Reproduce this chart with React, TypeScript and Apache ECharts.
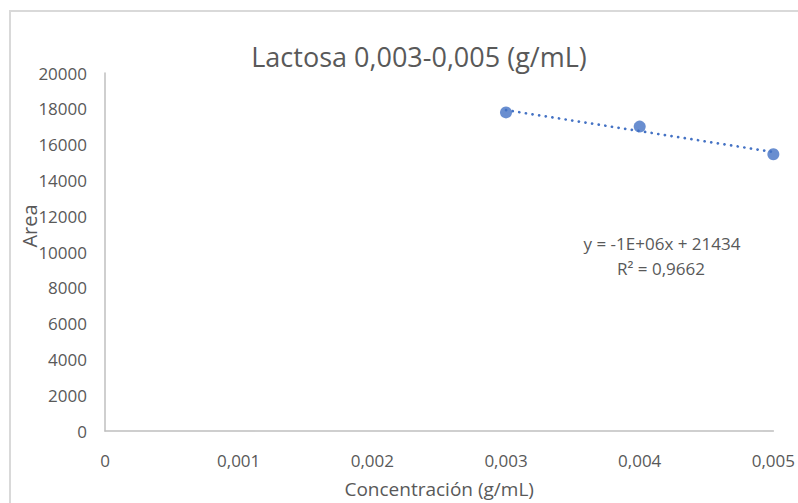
import React, { useEffect, useRef } from "react";
import * as echarts from "echarts";

const concentrations = [0.003, 0.004, 0.005];
const areas = [17798, 17007, 15458];
const yTicks = [0, 2000, 4000, 6000, 8000, 10000, 12000, 14000, 16000, 18000, 20000];
const xTicks = [0, 0.001, 0.002, 0.003, 0.004, 0.005];

const TITLE = "Lactosa 0,003-0,005 (g/mL)";
const X_NAME = "Concentración (g/mL)";
const Y_NAME = "Area";
const EQUATION = "y = -1E+06x + 21434";
const R2 = "R² = 0,9662";

function regression(xs: number[], ys: number[]) {
  const n = xs.length;
  const mx = xs.reduce((a, b) => a + b, 0) / n;
  const my = ys.reduce((a, b) => a + b, 0) / n;
  let sxy = 0, sxx = 0;
  for (let i = 0; i < n; i++) {
    sxy += (xs[i] - mx) * (ys[i] - my);
    sxx += (xs[i] - mx) ** 2;
  }
  const b = sxy / sxx;
  const a = my - b * mx;
  return { a, b };
}

export default function App() {
  const ref = useRef<HTMLDivElement>(null);
  useEffect(() => {
    document.body.style.margin = "0";
    if (!ref.current) return;
    const chart = echarts.init(ref.current, null, { renderer: "svg" });
    const { a, b } = regression(concentrations, areas);
    const x0 = concentrations[0];
    const x1 = concentrations[concentrations.length - 1];
    const font = "'Open Sans', sans-serif";
    const txt = "#595959";
    chart.setOption({
      animation: false,
      backgroundColor: "#ffffff",
      title: {
        text: TITLE,
        left: 414,
        top: 38,
        textAlign: "center",
        textStyle: { fontFamily: font, fontSize: 27, fontWeight: "normal", color: txt },
      },
      grid: { left: 105, right: 21, top: 73, bottom: 71 },
      xAxis: {
        type: "value",
        min: xTicks[0],
        max: xTicks[xTicks.length - 1],
        interval: 0.001,
        name: X_NAME,
        nameLocation: "middle",
        nameGap: 48,
        nameTextStyle: { fontFamily: font, fontSize: 19, color: txt },
        axisLine: { lineStyle: { color: "#bfbfbf", width: 1.5 } },
        axisTick: { show: false },
        splitLine: { show: false },
        axisLabel: {
          margin: 21,
          fontFamily: font,
          fontSize: 17,
          color: txt,
          formatter: (v: number) => (v === 0 ? "0" : v.toFixed(3).replace(".", ",")),
        },
      },
      yAxis: {
        type: "value",
        min: yTicks[0],
        max: yTicks[yTicks.length - 1],
        interval: 2000,
        axisLine: { show: true, lineStyle: { color: "#bfbfbf", width: 1.5 } },
        axisTick: { show: false },
        splitLine: { show: false },
        axisLabel: {
          margin: 18,
          fontFamily: font,
          fontSize: 17,
          color: txt,
          formatter: (v: number) => String(v),
        },
      },
      graphic: [
        {
          type: "rect",
          shape: { x: 10, y: 11, width: 900, height: 600 },
          style: { fill: "none", stroke: "#d9d9d9", lineWidth: 2 },
          silent: true,
        },
        {
          type: "text",
          x: 29,
          y: 226,
          rotation: Math.PI / 2,
          style: { text: Y_NAME, align: "center", verticalAlign: "middle", fontFamily: font, fontSize: 20, fill: txt },
        },
        {
          type: "text",
          x: 662,
          y: 243,
          style: { text: EQUATION, align: "center", verticalAlign: "middle", fontFamily: font, fontSize: 17, fill: txt },
        },
        {
          type: "text",
          x: 661,
          y: 268,
          style: { text: R2, align: "center", verticalAlign: "middle", fontFamily: font, fontSize: 17, fill: txt },
        },
      ],
      series: [
        {
          type: "line",
          data: [
            [x0, a + b * x0],
            [x1, a + b * x1],
          ],
          showSymbol: false,
          symbol: "none",
          lineStyle: { color: "#4472c4", width: 2.7, type: [0.1, 6.6], cap: "round" },
          z: 1,
        },
        {
          type: "scatter",
          data: concentrations.map((c, i) => [c, areas[i]]),
          symbol: "circle",
          symbolSize: 12,
          itemStyle: { color: "#4472c4" },
          z: 2,
        },
      ],
    });
    return () => chart.dispose();
  }, []);
  return <div ref={ref} style={{ width: 798, height: 503 }} />;
}
